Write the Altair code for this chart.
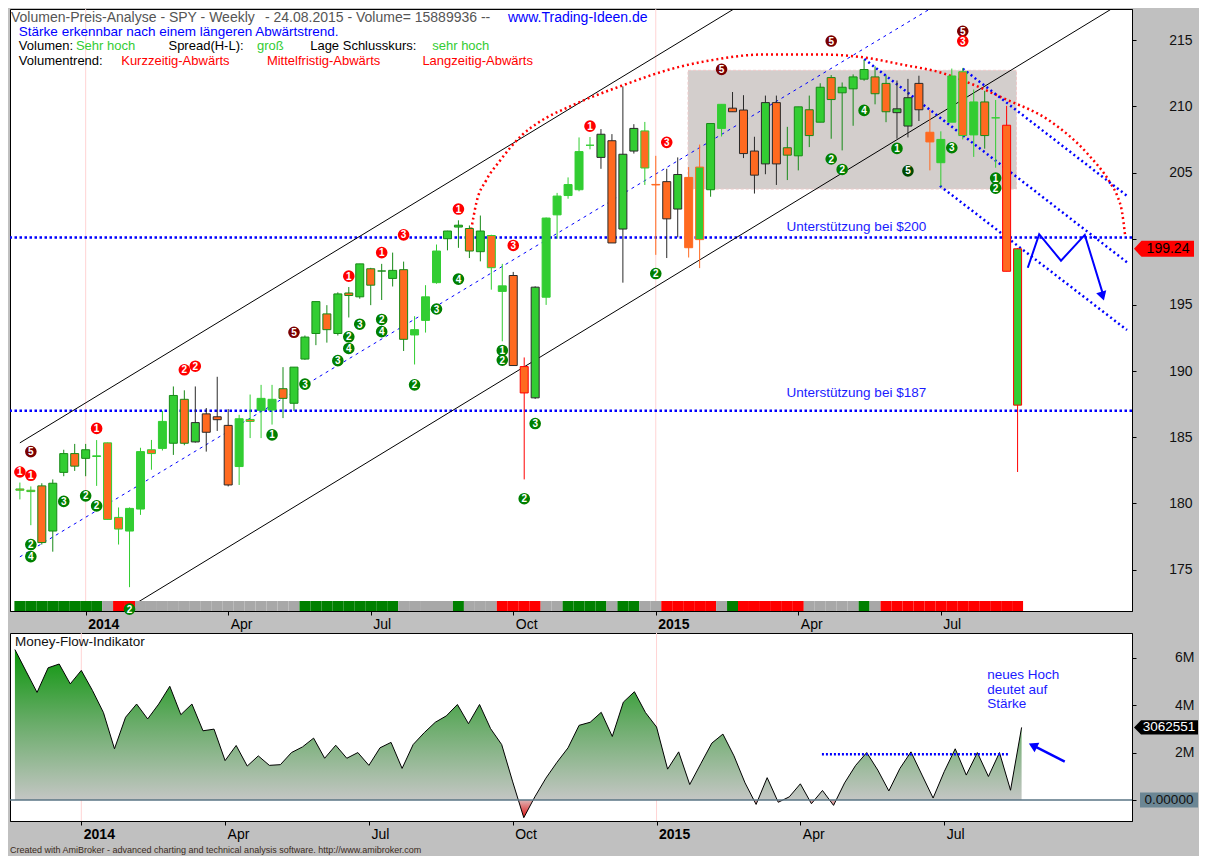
import altair as alt
import pandas as pd

FONT = "Liberation Sans"
START = "2013-11-25"  # Monday of the first weekly bar

# ---------------- weekly OHLC ----------------
opens = [181.10, 181.00, 181.33, 177.92, 182.35, 183.77, 183.41, 183.55, 184.58, 178.95,
         177.92, 179.58, 184.06, 184.16, 184.55, 187.87, 184.65, 186.77, 186.55, 185.90,
         182.79, 186.35, 187.04, 187.06, 188.67, 187.57, 190.91, 192.84, 194.32, 192.84,
         195.90, 195.61, 197.73, 197.56, 197.00, 197.66, 192.73, 193.83, 196.68, 200.00,
         200.88, 200.77, 199.02, 200.24, 196.02, 197.22, 190.34, 187.98, 195.58, 201.80,
         203.26, 203.70, 207.06, 206.14, 207.40, 200.73, 206.62, 208.14, 204.10, 204.31,
         202.24, 204.63, 199.93, 203.70, 208.33, 209.86, 209.72, 206.62, 205.65, 210.28,
         206.87, 206.26, 209.74, 208.80, 212.17, 211.02, 211.32, 212.05, 212.22, 211.73,
         209.52, 208.51, 211.73, 208.04, 205.74, 208.80, 212.61, 207.84, 210.33, 209.13,
         208.57, 187.43]
highs = [181.58, 181.29, 181.53, 181.82, 184.06, 184.50, 184.50, 184.79, 184.60, 179.70,
         179.70, 184.21, 184.80, 187.00, 188.84, 188.55, 188.84, 187.21, 189.57, 187.13,
         186.70, 188.23, 188.96, 188.96, 190.30, 190.30, 192.69, 195.25, 194.98, 195.95,
         196.35, 198.10, 197.80, 198.10, 198.95, 198.27, 194.15, 196.49, 199.56, 200.60,
         201.39, 201.00, 201.75, 200.30, 198.10, 197.49, 191.03, 196.40, 201.60, 203.46,
         204.63, 207.65, 207.68, 208.28, 207.90, 211.50, 208.65, 208.82, 206.26, 205.28,
         206.14, 205.41, 207.11, 208.70, 210.15, 211.08, 210.84, 207.70, 210.81, 210.81,
         208.45, 209.96, 210.81, 211.74, 212.36, 211.80, 212.41, 213.51, 213.02, 212.36,
         211.95, 212.07, 212.31, 209.74, 208.11, 212.85, 212.90, 211.27, 211.17, 210.48,
         210.03, 199.30]
lows = [180.31, 178.36, 176.90, 176.36, 182.06, 182.46, 182.06, 181.33, 178.80, 176.90,
        173.68, 179.14, 182.55, 184.00, 183.67, 184.40, 184.60, 183.92, 185.48, 181.29,
        181.40, 184.94, 184.94, 185.96, 186.45, 187.00, 190.85, 191.96, 192.15, 192.69,
        194.05, 195.47, 194.98, 195.37, 196.39, 191.52, 190.50, 192.91, 196.60, 199.12,
        199.31, 198.54, 198.29, 196.15, 192.25, 190.40, 181.82, 187.90, 195.00, 200.00,
        203.02, 203.58, 206.75, 205.28, 199.68, 196.68, 206.43, 204.06, 198.78, 198.54,
        200.10, 198.58, 197.78, 203.17, 207.72, 209.59, 206.09, 203.41, 204.87, 204.06,
        204.43, 205.16, 206.92, 208.80, 207.55, 206.67, 208.53, 211.93, 210.15, 208.80,
        207.55, 207.65, 208.89, 205.16, 203.95, 208.80, 207.50, 206.18, 206.80, 205.36,
        197.54, 182.38]
closes = [181.00, 180.90, 177.05, 181.53, 183.77, 182.82, 184.06, 183.60, 178.80, 178.07,
          179.63, 183.92, 183.77, 186.20, 188.16, 184.55, 186.11, 185.38, 186.33, 181.40,
          186.40, 186.20, 187.94, 187.87, 187.94, 190.30, 192.57, 195.25, 193.13, 195.83,
          195.71, 198.10, 196.49, 197.56, 197.61, 192.40, 193.13, 195.61, 199.07, 200.58,
          201.02, 199.07, 200.58, 197.81, 196.44, 190.42, 188.35, 196.34, 201.56, 203.22,
          204.09, 206.58, 207.06, 207.89, 199.68, 206.38, 208.33, 205.34, 204.06, 201.50,
          204.85, 199.32, 205.41, 208.70, 210.15, 209.59, 206.43, 204.80, 210.28, 205.65,
          206.31, 209.96, 207.79, 211.44, 210.51, 211.44, 212.22, 212.78, 210.95, 209.59,
          209.81, 210.65, 209.74, 207.31, 207.50, 212.29, 207.79, 210.33, 207.79, 209.13,
          197.54, 199.24]
# candle outline class per bar
edges = ["l", "l", "g", "g", "g", "g", "g", "l", "l", "l",
         "l", "l", "l", "l", "g", "g", "k", "k", "k", "k",
         "l", "l", "l", "l", "g", "g", "g", "g", "g", "g",
         "g", "g", "g", "g", "g", "g", "l", "l", "l", "g",
         "g", "g", "g", "l", "l", "k", "r", "k", "l", "l",
         "l", "l", "l", "k", "k", "k", "k", "l", "o", "k",
         "k", "o", "o", "g", "l", "k", "k", "k", "k", "k",
         "g", "g", "g", "g", "g", "g", "g", "g", "g", "g",
         "k", "k", "k", "o", "l", "l", "l", "l", "g", "l",
         "r", "r"]
# volume-trend strip per bar (G green, A grey, R red)
strip = ("GGGGGGGG" "A" "RR" "AAAAAAAAAAAAAAA" "GGGGGGGGG" "AAAAA" "G" "AAA" "RRRR" "AA"
         "GGGG" "A" "GG" "AA" "RRRRR" "A" "G" "RRRRRR" "AAAAA" "G" "A" "RRRRRRRRRRRRR")

# Money-Flow indicator (millions) per bar
mfi = [6.35, 5.44, 4.54, 5.58, 5.74, 4.90, 5.47, 4.63, 3.69, 2.16,
       3.49, 4.05, 3.42, 4.05, 4.80, 3.60, 4.05, 2.92, 2.99, 1.66,
       2.30, 1.43, 1.86, 1.46, 1.49, 2.00, 2.24, 2.61, 1.76, 2.31,
       1.76, 2.00, 1.46, 2.20, 2.43, 1.33, 2.34, 2.84, 3.28, 3.55,
       4.03, 3.22, 4.03, 3.01, 2.34, 0.76, -0.75, 0.13, 0.92, 1.59,
       2.20, 3.15, 3.28, 3.70, 2.68, 4.13, 4.57, 3.69, 3.08, 1.30,
       2.03, 0.65, 1.53, 2.40, 2.78, 1.86, 0.72, -0.19, 0.94, -0.10,
       0.13, 0.68, -0.16, 0.40, -0.23, 0.72, 1.46, 2.00, 1.26, 0.38,
       1.33, 2.03, 1.05, 0.08, 1.19, 2.16, 1.05, 2.00, 0.99, 2.00,
       0.41, 3.062551]

# numbered signal markers
marker_idx = [0, 1, 1, 1, 1, 4, 6, 7, 7, 10, 15, 16, 23, 25, 26, 29, 30, 30, 30, 31,
              33, 33, 33, 35, 36, 38, 40, 40, 45, 44, 44, 47, 46, 52, 59, 58, 64, 74, 74, 75,
              77, 80, 81, 85, 86, 86, 89, 89]
marker_price = [182.38, 182.13, 183.92, 176.90, 175.99, 180.16, 180.58, 179.82, 185.67, 172.02,
                190.10, 190.37, 185.18, 192.93, 189.02, 190.79, 192.59, 191.71, 197.17, 193.54,
                193.90, 192.98, 198.95, 200.29, 188.96, 194.69, 196.95, 202.24, 199.49, 191.56,
                190.83, 186.04, 180.36, 208.50, 207.28, 197.37, 212.79, 214.93, 206.02, 205.23,
                209.69, 206.82, 205.12, 206.87, 215.67, 214.93, 204.58, 203.82]
marker_label = ["1", "1", "5", "2", "4", "3", "2", "2", "1", "2", "2", "2", "1", "5", "3", "3", "2", "4", "1", "3",
                "2", "4", "1", "3", "2", "3", "4", "1", "3", "1", "2", "3", "2", "1", "3", "2", "5", "5", "2", "2",
                "4", "1", "5", "3", "5", "3", "1", "2"]
marker_kind = ["R", "R", "D", "G", "G", "G", "G", "G", "R", "G", "R", "R", "G", "D", "G", "G", "G", "G", "R", "G",
               "G", "G", "R", "R", "G", "G", "G", "R", "R", "G", "G", "G", "G", "R", "R", "G", "D", "D", "G", "G",
               "G", "G", "E", "G", "D", "R", "G", "G"]

# drawn lines (bar index, price)
channel_id = ["a", "a", "b", "b"]
channel_idx = [0, 65.12, 8.75, 99.56]
channel_price = [184.58, 217.35, 171.53, 217.35]
mid_idx = [0, 83.0]
mid_price = [175.97, 217.35]
support_price = [200.1, 187.0]
support_text = ["Unterstützung bei $200", "Unterstützung bei $187"]
support_text_price = [200.9, 188.33]
support_text_idx = 69.93
arc_idx = [40.93, 41.37, 41.64, 42.53, 43.77, 45.82, 47.33, 50.27, 54.71, 60.05, 62.99, 67.79,
           73.40, 76.96, 80.78, 83.81, 86.74, 89.68, 93.86, 97.42, 99.47, 100.09, 100.53, 100.8]
arc_price = [199.58, 201.63, 202.73, 204.41, 205.87, 207.84, 208.79, 210.03, 211.50, 212.96, 213.47, 213.91,
             213.91, 213.69, 213.10, 212.59, 211.71, 210.62, 208.94, 206.38, 204.19, 203.24, 202.00, 200.31]
down_id = ["a", "a", "b", "b", "c", "c"]
down_idx = [77.02, 100.98, 86.0, 100.98, 83.92, 100.98]
down_price = [213.57, 198.22, 212.84, 203.24, 203.99, 193.10]
zig_idx = [91.93, 92.97, 94.96, 97.13, 98.75]
zig_price = [197.81, 200.34, 198.34, 200.29, 195.91]
box_idx = [60.94, 90.9]
box_price = [203.75, 212.72]
tick_dates = ["2014-01-06", "2014-04-07", "2014-07-07", "2014-10-06", "2015-01-05", "2015-04-06", "2015-07-06"]
year_dates = ["2014-01-06", "2015-01-05"]
mfi_level = 1.93
mfi_level_idx = [72.95, 89.77]
note_lines = ["neues Hoch", "deutet auf", "Stärke"]
note_vals = [5.27, 4.66, 4.05]
note_idx = 87.9
arrow_idx = [94.9, 92.02]
arrow_vals = [1.62, 2.30]

HEAD1A = "Volumen-Preis-Analyse - SPY - Weekly"
HEAD1B = "- 24.08.2015 - Volume= 15889936 --"
HEAD_URL = "www.Trading-Ideen.de"
HEAD2 = "Stärke erkennbar nach einem längeren Abwärtstrend."
FOOTER = "Created with AmiBroker - advanced charting and technical analysis software. http://www.amibroker.com"

# ---------------- layout / style ----------------
W, H1, H2 = 1122, 602, 188
SX, SY1, SY2 = W / 1140.0, H1 / 622.0, H2 / 196.0
GREEN, ORANGE = "#32cd32", "#ff6a20"
EDGE = {"k": "#2a2a2a", "g": "#178a17", "l": "#32cd32", "r": "#ff0000", "o": "#ff6a20"}
STRIPC = {"G": "#008000", "A": "#a8a8a8", "R": "#ff0000"}
MK = {"R": "#ff0000", "D": "#7a0000", "G": "#008000", "E": "#004a00"}
BLUE = "#0000ff"

t0 = pd.Timestamp(START)


def wk(i):
    return (t0 + pd.Timedelta(days=7 * i)).strftime("%Y-%m-%dT%H:%M:%S")


def dtobj(i):
    t = t0 + pd.Timedelta(days=7 * i)
    return alt.DateTime(year=t.year, month=t.month, date=t.day, hours=t.hour, minutes=t.minute)


def dts(s):
    t = pd.Timestamp(s)
    return alt.DateTime(year=t.year, month=t.month, date=t.day)


XS = alt.Scale(domain=[dtobj(-0.445), dtobj(100.98)])
XAX = alt.Axis(
    values=[dts(s) for s in tick_dates],
    labelExpr="month(datum.value) == 0 ? timeFormat(datum.value, '%Y') : timeFormat(datum.value, '%b')",
    labelAlign="left", labelBaseline="top", labelPadding=2, labelOffset=2,
    labelFlush=False, labelOverlap=False,
    tickSize=4, tickColor="black", domainColor="black", labelColor="black",
    labelFontSize=14, labelFont=FONT, grid=False, title=None,
    labelFontWeight={"condition": {"test": "month(datum.value) == 0", "value": "bold"}, "value": "normal"},
)
YS1 = alt.Scale(domain=[171.88, 217.35], nice=False, zero=False)
YAX1 = alt.Axis(orient="right", values=[175, 180, 185, 190, 195, 200, 205, 210, 215],
                labelExpr="datum.value == 200 ? '' : datum.value",
                tickSize=4, labelAlign="right", labelPadding=56, labelFontSize=14, labelFont=FONT,
                labelColor="#111", tickColor="black", domainColor="black", grid=False, title=None)
YS2 = alt.Scale(domain=[-0.89, 7.05], nice=False, zero=False)
YAX2 = alt.Axis(orient="right", values=[0, 2, 4, 6],
                labelExpr="datum.value == 0 ? '' : datum.value + 'M'",
                tickSize=4, labelAlign="right", labelPadding=58, labelFontSize=14, labelFont=FONT,
                labelColor="#111", tickColor="black", domainColor="black", grid=False, title=None)


def xe(f):
    return alt.X(f, type="temporal", scale=XS, axis=XAX, title=None)


def y1(f):
    return alt.Y(f, type="quantitative", scale=YS1, axis=YAX1, title=None)


def y2(f):
    return alt.Y(f, type="quantitative", scale=YS2, axis=YAX2, title=None)


ONE = pd.DataFrame({"a": [0]})


def ptext(txt, color, xr, yr, sy, size=13, weight="normal"):
    return alt.Chart(ONE).mark_text(text=txt, color=color, align="left", baseline="middle",
                                    fontSize=size, font=FONT, fontWeight=weight).encode(
        x=alt.value(xr * SX), y=alt.value(yr * sy))


# ---------------- data frames ----------------
N = len(closes)
cdf = pd.DataFrame({
    "date": [wk(i) for i in range(N)],
    "x0": [wk(i - 0.5) for i in range(N)],
    "x1": [wk(i + 0.5) for i in range(N)],
    "o": opens, "h": highs, "l": lows, "c": closes,
    "edge": [EDGE[e] for e in edges],
    "body": [GREEN if c >= o else ORANGE for o, c in zip(opens, closes)],
    "strip": [STRIPC[s] for s in strip],
    "mfi": mfi,
})
yrdf = pd.DataFrame({"d": [s + "T00:00:00" for s in year_dates]})
boxdf = pd.DataFrame({"x0": [wk(box_idx[0])], "x1": [wk(box_idx[1])], "p0": [box_price[0]], "p1": [box_price[1]]})
supdf = pd.DataFrame({"p": support_price})
suptxt = pd.DataFrame({"d": [wk(support_text_idx)] * 2, "p": support_text_price, "t": support_text})
chdf = pd.DataFrame({"id": channel_id, "d": [wk(i) for i in channel_idx], "p": channel_price})
middf = pd.DataFrame({"d": [wk(i) for i in mid_idx], "p": mid_price})
arcdf = pd.DataFrame({"d": [wk(i) for i in arc_idx], "p": arc_price})
downdf = pd.DataFrame({"id": down_id, "d": [wk(i) for i in down_idx], "p": down_price})
zigdf = pd.DataFrame({"d": [wk(i) for i in zig_idx], "p": zig_price})
headdf = pd.DataFrame({"d": [wk(zig_idx[-1])], "p": [zig_price[-1] - 0.25]})
mkdf = pd.DataFrame({"d": [wk(i) for i in marker_idx], "p": marker_price, "lab": marker_label,
                     "col": [MK[k] for k in marker_kind]})
tagdf = pd.DataFrame({"p": [closes[-1]], "t": [f"{closes[-1]:.2f}"]})

# ---------------- upper panel ----------------
TAG = "M -1 0 L -0.75 -0.27 L 1 -0.27 L 1 0.27 L -0.75 0.27 Z"
top_layers = [
    alt.Chart(yrdf).mark_rule(color="#ffd4d4", strokeWidth=1).encode(x=xe("d")),
    alt.Chart(boxdf).mark_rect(fill="#d3cecc", stroke="#efc9c9", strokeDash=[3, 2], strokeWidth=1).encode(
        x=xe("x0"), x2="x1:T", y=y1("p0"), y2="p1:Q"),
    alt.Chart(supdf).mark_rule(color=BLUE, strokeWidth=2.5, strokeDash=[2.5, 2.5]).encode(y=y1("p")),
    alt.Chart(chdf).mark_line(color="black", strokeWidth=1, clip=True).encode(
        x=xe("d"), y=y1("p"), detail="id:N"),
    alt.Chart(middf).mark_line(color=BLUE, strokeWidth=1, strokeDash=[3, 4], clip=True).encode(
        x=xe("d"), y=y1("p")),
    alt.Chart(arcdf).mark_line(color="#ff0000", strokeWidth=2.5, strokeDash=[2, 3], clip=True,
                               interpolate="monotone").encode(x=xe("d"), y=y1("p")),
    alt.Chart(downdf).mark_line(color=BLUE, strokeWidth=2.5, strokeDash=[2, 3], clip=True).encode(
        x=xe("d"), y=y1("p"), detail="id:N"),
    alt.Chart(zigdf).mark_line(color=BLUE, strokeWidth=2).encode(x=xe("d"), y=y1("p")),
    alt.Chart(headdf).mark_point(shape="triangle-up", filled=True, color=BLUE, opacity=1, size=110,
                                 angle=163).encode(x=xe("d"), y=y1("p")),
    alt.Chart(cdf).mark_rule(strokeWidth=1).encode(
        x=xe("date"), y=y1("l"), y2="h:Q", color=alt.Color("edge:N", scale=None)),
    alt.Chart(cdf).mark_bar(width=8, strokeWidth=1).encode(
        x=xe("date"), y=y1("o"), y2="c:Q",
        fill=alt.Fill("body:N", scale=None), stroke=alt.Stroke("edge:N", scale=None)),
    alt.Chart(cdf).mark_rect().encode(
        x=xe("x0"), x2="x1:T", y=alt.value(H1 - 10), y2=alt.value(H1),
        fill=alt.Fill("strip:N", scale=None)),
    alt.Chart(mkdf).mark_circle(size=135, opacity=1).encode(
        x=xe("d"), y=y1("p"), color=alt.Color("col:N", scale=None)),
    alt.Chart(mkdf).mark_text(color="white", fontWeight="bold", fontSize=10, font=FONT,
                              baseline="middle", dy=0.5).encode(x=xe("d"), y=y1("p"), text="lab:N"),
    alt.Chart(suptxt).mark_text(color="#1a1aff", align="left", baseline="middle", fontSize=13.5,
                                font=FONT).encode(x=xe("d"), y=y1("p"), text="t:N"),
    ptext(HEAD1A, "#555555", 1, 9.5, SY1, size=14),
    ptext(HEAD1B, "#555555", 259, 9.5, SY1, size=14),
    ptext(HEAD_URL, BLUE, 506, 9.5, SY1, size=14),
    ptext(HEAD2, BLUE, 9, 23.5, SY1, size=13.5),
    ptext("Volumen:", "black", 9, 38.5, SY1),
    ptext("Sehr hoch", "#33cc33", 67, 38.5, SY1),
    ptext("Spread(H-L):", "black", 161, 38.5, SY1),
    ptext("groß", "#33cc33", 251, 38.5, SY1),
    ptext("Lage Schlusskurs:", "black", 305, 38.5, SY1),
    ptext("sehr hoch", "#33cc33", 429, 38.5, SY1),
    ptext("Volumentrend:", "black", 9, 53.5, SY1),
    ptext("Kurzzeitig-Abwärts", "#ff0000", 113, 53.5, SY1),
    ptext("Mittelfristig-Abwärts", "#ff0000", 261, 53.5, SY1),
    ptext("Langzeitig-Abwärts", "#ff0000", 419, 53.5, SY1),
    alt.Chart(tagdf).mark_point(shape=TAG, size=3600, filled=True, color="#ff0000", opacity=1,
                                strokeWidth=0).encode(x=alt.value(W + 32), y=y1("p")),
    alt.Chart(tagdf).mark_text(color="black", fontSize=14, font=FONT, align="center",
                               baseline="middle").encode(x=alt.value(W + 36), y=y1("p"), text="t:N"),
]
top = alt.layer(*top_layers).properties(width=W, height=H1)

# ---------------- lower panel ----------------
vmax, vmin = max(mfi), min(mfi)
z = vmax / (vmax - vmin)
grad = alt.Gradient(gradient="linear", x1=0, x2=0, y1=0, y2=1, stops=[
    alt.GradientStop(offset=0, color="#0a960a"),
    alt.GradientStop(offset=0.45 * z, color="#62aa62"),
    alt.GradientStop(offset=z, color="#c4c6c4"),
    alt.GradientStop(offset=min(z + 0.004, 1), color="#dcb0b0"),
    alt.GradientStop(offset=1, color="#e01010"),
])
lvdf = pd.DataFrame({"d": [wk(i) for i in mfi_level_idx], "v": [mfi_level] * 2})
notedf = pd.DataFrame({"d": [wk(note_idx)] * 3, "v": note_vals, "t": note_lines})
arrdf = pd.DataFrame({"d": [wk(i) for i in arrow_idx], "v": arrow_vals})
arrhead = pd.DataFrame({"d": [wk(arrow_idx[-1])], "v": [arrow_vals[-1]]})
mtag = pd.DataFrame({"v": [mfi[-1]], "t": [f"{round(mfi[-1] * 1e6)}"]})
ztag = pd.DataFrame({"v": [0.0], "t": ["0.00000"]})
TAG2 = "M -1 0 L -0.78 -0.22 L 1 -0.22 L 1 0.22 L -0.78 0.22 Z"
BOX2 = "M -1 -0.26 L 1 -0.26 L 1 0.26 L -1 0.26 Z"

bot_layers = [
    alt.Chart(yrdf).mark_rule(color="#ffd4d4", strokeWidth=1).encode(x=xe("d")),
    alt.Chart(cdf).mark_area(color=grad, opacity=1).encode(x=xe("date"), y=y2("mfi"), y2=alt.datum(0)),
    alt.Chart(cdf).mark_line(color="black", strokeWidth=1).encode(x=xe("date"), y=y2("mfi")),
    alt.Chart(ONE).mark_rule(color="#5a7585", strokeWidth=1.5).encode(y=alt.datum(0)),
    alt.Chart(lvdf).mark_line(color=BLUE, strokeWidth=2.5, strokeDash=[2, 2]).encode(x=xe("d"), y=y2("v")),
    alt.Chart(notedf).mark_text(color="#1a1aff", align="left", baseline="middle", fontSize=13.5,
                                font=FONT).encode(x=xe("d"), y=y2("v"), text="t:N"),
    alt.Chart(arrdf).mark_line(color=BLUE, strokeWidth=2.5).encode(x=xe("d"), y=y2("v")),
    alt.Chart(arrhead).mark_point(shape="triangle-up", filled=True, color=BLUE, opacity=1, size=110,
                                  angle=297).encode(x=xe("d"), y=y2("v")),
    alt.Chart(mtag).mark_point(shape=TAG2, size=4096, filled=True, color="black", opacity=1,
                               strokeWidth=0).encode(x=alt.value(W + 34), y=y2("v")),
    alt.Chart(mtag).mark_text(color="white", fontSize=13.5, font=FONT, align="center",
                              baseline="middle").encode(x=alt.value(W + 37), y=y2("v"), text="t:N"),
    alt.Chart(ztag).mark_point(shape=BOX2, size=3364, filled=True, color="#6b8694", opacity=1,
                               strokeWidth=0).encode(x=alt.value(W + 37), y=y2("v")),
    alt.Chart(ztag).mark_text(color="#111", fontSize=13.5, font=FONT, align="center",
                              baseline="middle").encode(x=alt.value(W + 37), y=y2("v"), text="t:N"),
    ptext("Money-Flow-Indikator", "#111", 5, 9, SY2, size=13.5),
    alt.Chart(ONE).mark_text(text=FOOTER, color="#3a2a1a", align="left", baseline="middle",
                             fontSize=9, font=FONT).encode(x=alt.value(0), y=alt.value(H2 + 29)),
]
bottom = alt.layer(*bot_layers).properties(width=W, height=H2)

chart = alt.vconcat(top, bottom, spacing=0, background="#c0c0c0",
                    padding={"left": 0, "right": 0, "top": 0, "bottom": 0}).configure_view(
    fill="white", stroke="black", strokeWidth=1)

chart.save("out.html", embed_options={"renderer": "svg", "actions": False})
